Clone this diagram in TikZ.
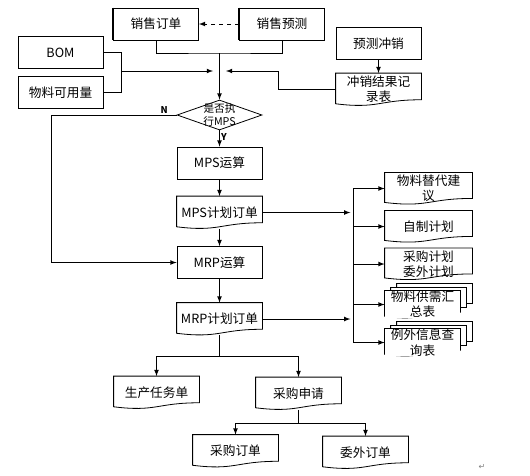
\documentclass[tikz,border=0pt]{standalone}
\usepackage{fontspec}
\setmainfont{Noto Sans CJK SC}
\newfontfamily\symfont{DejaVu Sans}
\usetikzlibrary{shapes.geometric}

\begin{document}
\begin{tikzpicture}[x=0.75pt, y=-0.75pt, >=latex, line width=0.6pt,
  every node/.style={font=\fontsize{9.5}{11.5}\selectfont},
  box/.style={draw, minimum width=63.75pt, minimum height=24pt, inner sep=1pt, align=center},
  sbox/.style={box, append after command={(\tikzlastnode.north west) edge[line width=1.5pt] (\tikzlastnode.south west)}},
  doc/.style={minimum width=63.75pt, minimum height=24pt, inner sep=1pt, align=center,
    append after command={\pgfextra{\draw[#1] (\tikzlastnode.north west) -- (\tikzlastnode.north east)
      -- ([yshift=4.6pt]\tikzlastnode.south east)
      .. controls ([yshift=4.6pt]\tikzlastnode.south) and ([yshift=-2.4pt]\tikzlastnode.south)
      .. ([yshift=1.6pt]\tikzlastnode.south west) -- cycle;}}},
  doc/.default={},
  rdoc/.style={doc, minimum width=65.25pt, minimum height=23.5pt},
  page/.style={doc={fill=white}, minimum width=56.25pt, minimum height=19pt},
  mdoc/.style={doc, fill=white, minimum width=56.25pt, minimum height=19pt, inner sep=0pt},
  choice/.style={diamond, draw, minimum width=63.75pt, minimum height=22.5pt, inner sep=-2pt, aspect=2.8, align=center, font=\fontsize{8}{9.5}\selectfont},
  yn/.style={font=\fontsize{7}{8}\selectfont\bfseries, inner sep=1pt}]
\useasboundingbox (0,0) rectangle (530,475);

% top
\node[sbox] (xsdd) at (156,24) {销售订单};
\node[sbox] (xsyc) at (282,24) {销售预测};
\node[box] (bom) at (60.5,52.5) {BOM};
\node[box] (kyl) at (60.5,92.5) {物料可用量};
\node[box] (yccx) at (378.5,43.5) {预测冲销};
\node[doc] (cxjg) at (378.5,89.5) {冲销结果记\\录表};
\node[choice] (dec) at (219.5,115) {是否执\\行MPS};

% main column
\node[box] (mpsys) at (219.5,163) {MPS运算};
\node[doc] (mpsdd) at (219.5,212.5) {MPS计划订单};
\node[box] (mrpys) at (219.5,262.5) {MRP运算};
\node[doc] (mrpdd) at (219.5,319) {MRP计划订单};

% outputs
\node[rdoc] (wltd) at (428.5,188.5) {物料替代建\\议};
\node[rdoc] (zzjh) at (428.5,226.5) {自制计划};
\node[rdoc] (cgjh) at (428.5,264) {采购计划\\委外计划};
\node[page] (gxhz3) at (434.5,296.5) {};
\node[page] (gxhz2) at (428.5,300.5) {};
\node[mdoc] (gxhz) at (422.5,304.5) {物料供需汇\\总表};
\node[page] (lwxx3) at (434.5,334.5) {};
\node[page] (lwxx2) at (428.5,338.5) {};
\node[mdoc] (lwxx) at (422.5,342.5) {例外信息查\\询表};

% bottom
\node[doc] (scrw) at (156.5,392.5) {生产任务单};
\node[doc] (cgsq) at (298.5,393.5) {采购申请};
\node[doc] (cgdd) at (235.5,451) {采购订单};
\node[doc] (wwdd) at (365.5,452.5) {委外订单};

\coordinate (j1) at (219.5,53);
\coordinate (b1) at (121,71);
\coordinate (a1) at (213,71);
\coordinate (c1) at (278,71);
\coordinate (a2) at (226,71);
\coordinate (tr) at (353,0);
\coordinate (b2) at (219.5,356);
\coordinate (b3) at (298.5,423);

\draw[->, dashed] (xsyc) -- (xsdd);
\draw (xsdd.south) |- (j1) -| (xsyc.south);
\draw[->] (j1) -- (dec.north);
\draw (bom.east) -| (b1);
\draw (kyl.east) -| (b1);
\draw[->] (b1) -- (a1);
\path [->, draw=black] (yccx) edge (cxjg);
\draw[->] (cxjg.west) -| (c1) -- (a2);

\draw[->] (dec.south) -- node[yn, right, pos=0.4] {Y} (mpsys.north);
\draw[->] (dec.west) -- node[yn, above, pos=0.1] {N} ++(-125,0) |- (mrpys.west);
\path [->, draw=black] (mpsys) edge (mpsdd);
\path [->, draw=black] (mpsdd) edge (mrpys);
\path [->, draw=black] (mrpys) edge (mrpdd);

\draw[->] (mpsdd.east) -- ([xshift=-2pt]mpsdd.east -| tr);
\draw[->] (mrpdd.east) -- ([xshift=-2pt]mrpdd.east -| tr);
\draw (wltd.west -| tr) -- (lwxx.west -| tr);
\foreach \n in {wltd,zzjh,cgjh,gxhz,lwxx}
  \draw[->] (\n.west -| tr) -- (\n.west);

\draw (mrpdd.south) -- (b2);
\draw[->] (b2) -| (scrw.north);
\draw[->] (b2) -| (cgsq.north);
\draw (cgsq.south) -- (b3);
\draw[->] (b3) -| (cgdd.north);
\draw[->] (b3) -| (wwdd.north);

\node[text=gray, font=\symfont\fontsize{6}{7}\selectfont] (ret) at (482,467) {↵};
\end{tikzpicture}
\end{document}
